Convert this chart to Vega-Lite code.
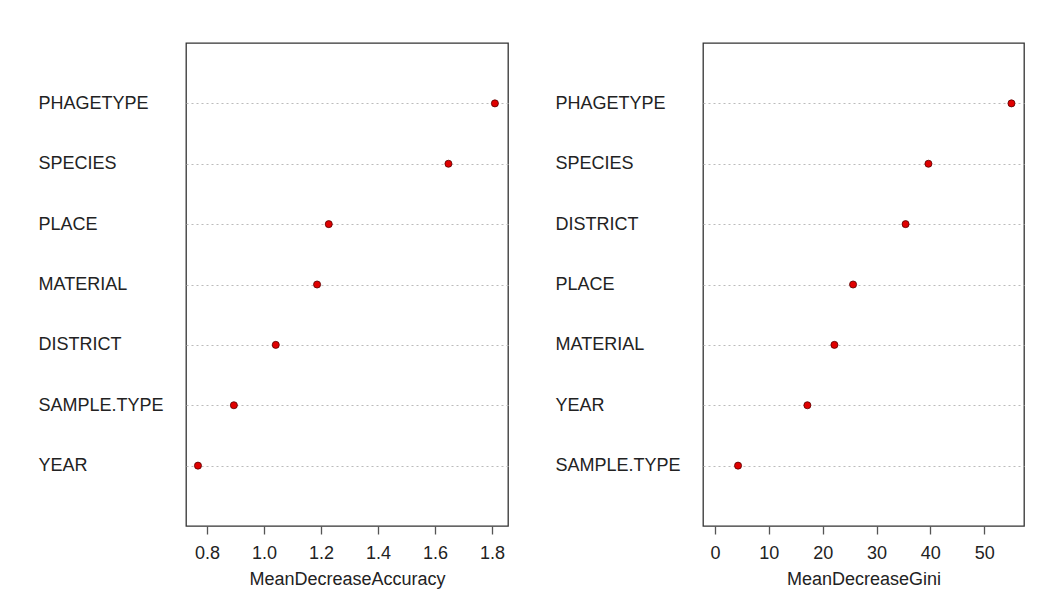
{
  "$schema": "https://vega.github.io/schema/vega-lite/v6.json",
  "background": "white",
  "padding": {"left": 37, "top": 42, "right": 5, "bottom": 5},
  "spacing": 45,
  "datasets": {
    "acc": [
      {"variable": "PHAGETYPE", "value": 1.810},
      {"variable": "SPECIES", "value": 1.647},
      {"variable": "PLACE", "value": 1.227},
      {"variable": "MATERIAL", "value": 1.186},
      {"variable": "DISTRICT", "value": 1.041},
      {"variable": "SAMPLE.TYPE", "value": 0.894},
      {"variable": "YEAR", "value": 0.768}
    ],
    "gini": [
      {"variable": "PHAGETYPE", "value": 55.07},
      {"variable": "SPECIES", "value": 39.65},
      {"variable": "DISTRICT", "value": 35.4},
      {"variable": "PLACE", "value": 25.65},
      {"variable": "MATERIAL", "value": 22.18},
      {"variable": "YEAR", "value": 17.16},
      {"variable": "SAMPLE.TYPE", "value": 4.28}
    ]
  },
  "config": {
    "font": "Liberation Sans",
    "view": {"stroke": "#333333", "strokeWidth": 1.3},
    "axisX": {
      "domain": false,
      "grid": false,
      "ticks": true,
      "tickSize": 8,
      "tickColor": "#555555",
      "tickWidth": 1.3,
      "labelFontSize": 18,
      "labelColor": "#222222",
      "labelPadding": 10,
      "titleFontSize": 18,
      "titleFontWeight": "normal",
      "titleColor": "#222222",
      "titlePadding": 8
    },
    "axisY": {
      "domain": false,
      "ticks": false,
      "grid": true,
      "gridColor": "#bbbbbb",
      "gridDash": [2, 3],
      "gridWidth": 1,
      "labelAlign": "left",
      "labelPadding": 148,
      "labelFontSize": 18,
      "labelColor": "#222222",
      "title": null
    }
  },
  "hconcat": [
    {
      "width": 322,
      "height": 483,
      "data": {"name": "acc"},
      "mark": {"type": "point", "filled": true, "fill": "#e00000", "stroke": "#550000", "strokeWidth": 0.8, "size": 50, "opacity": 1},
      "encoding": {
        "y": {"field": "variable", "type": "nominal", "sort": {"field": "value", "order": "descending"}, "scale": {"padding": 1}, "axis": {"title": null}},
        "x": {"field": "value", "type": "quantitative", "title": "MeanDecreaseAccuracy",
          "scale": {"domain": [0.726, 1.856], "nice": false, "zero": false},
          "axis": {"values": [0.8, 1.0, 1.2, 1.4, 1.6, 1.8], "format": ".1f"}}
      }
    },
    {
      "width": 321,
      "height": 483,
      "data": {"name": "gini"},
      "mark": {"type": "point", "filled": true, "fill": "#e00000", "stroke": "#550000", "strokeWidth": 0.8, "size": 50, "opacity": 1},
      "encoding": {
        "y": {"field": "variable", "type": "nominal", "sort": {"field": "value", "order": "descending"}, "scale": {"padding": 1}, "axis": {"title": null}},
        "x": {"field": "value", "type": "quantitative", "title": "MeanDecreaseGini",
          "scale": {"domain": [-2.23, 57.4], "nice": false, "zero": false},
          "axis": {"values": [0, 10, 20, 30, 40, 50]}}
      }
    }
  ]
}
